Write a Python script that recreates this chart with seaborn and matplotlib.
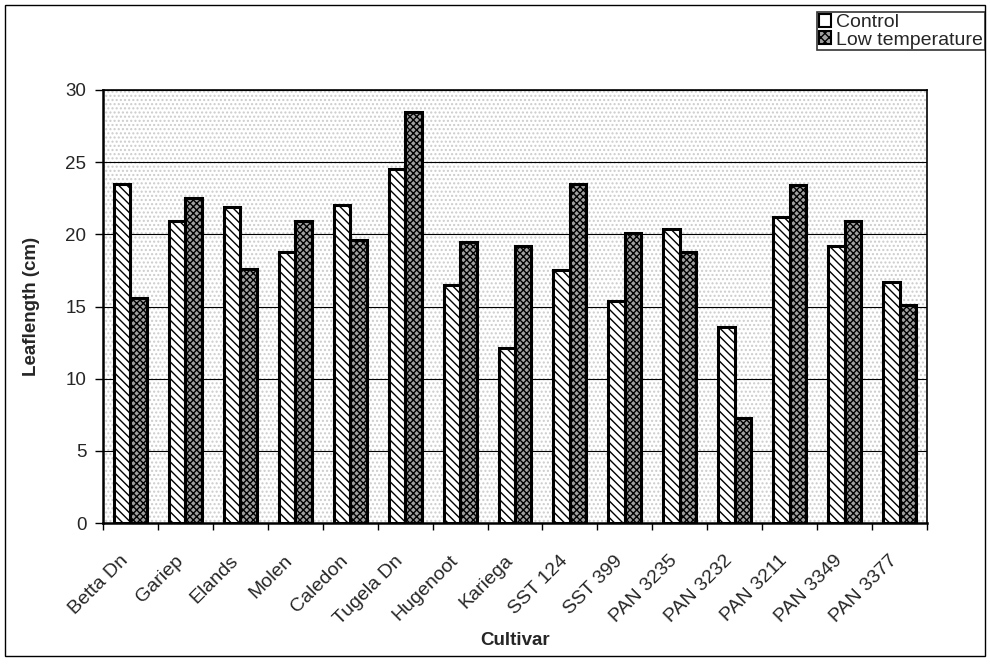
import matplotlib
matplotlib.use("Agg")
import matplotlib.pyplot as plt
import matplotlib.transforms as mtransforms
import seaborn as sns
import pandas as pd
from matplotlib.patches import Rectangle, Patch

cultivars = ["Betta Dn", "Gariep", "Elands", "Molen", "Caledon", "Tugela Dn",
             "Hugenoot", "Kariega", "SST 124", "SST 399", "PAN 3235", "PAN 3232",
             "PAN 3211", "PAN 3349", "PAN 3377"]
control = [23.5, 20.9, 21.9, 18.75, 22.0, 24.5, 16.5, 12.1, 17.5, 15.4, 20.4, 13.6, 21.2, 19.2, 16.7]
low_temp = [15.6, 22.5, 17.6, 20.9, 19.6, 28.5, 19.5, 19.2, 23.5, 20.1, 18.8, 7.3, 23.4, 20.9, 15.1]
series = ["Control", "Low temperature"]
yticks = [0, 5, 10, 15, 20, 25, 30]

df = pd.DataFrame({
    "Cultivar": cultivars * 2,
    "value": control + low_temp,
    "Series": [series[0]] * len(cultivars) + [series[1]] * len(cultivars),
})

sns.set_style("white")
plt.rcParams["font.family"] = ["Liberation Sans", "DejaVu Sans"]
plt.rcParams["hatch.linewidth"] = 1.0

fig = plt.figure(figsize=(9.9, 6.64), dpi=100)
ax = fig.add_axes([103 / 990, 1 - 523 / 664, (927 - 103) / 990, (523 - 90) / 664])

# light speckled-looking background
ax.add_patch(Rectangle((0, 0), 1, 1, transform=ax.transAxes, facecolor="white",
                       hatch="....", edgecolor="#cccccc", linewidth=0, zorder=0))

sns.barplot(data=df, x="Cultivar", y="value", hue="Series", hue_order=series,
            palette=["white", "#a0a0a0"], width=0.6, gap=0, ax=ax,
            edgecolor="black", linewidth=2.2, legend=False, zorder=3)

n = len(cultivars)
bars = [p for p in ax.patches if p.get_zorder() == 3]
for i, p in enumerate(bars):
    p.set_hatch("\\\\\\\\" if i < n else "xxxxx")

ax.set_ylim(0, 30)
ax.set_xlim(-0.5, n - 0.5)
ax.set_yticks(yticks)
ax.set_yticklabels([str(t) for t in yticks], fontsize=13.5)
ax.yaxis.grid(True, color="black", linewidth=0.8)
ax.set_axisbelow(True)
for s in ax.spines.values():
    s.set_color("black")
    s.set_linewidth(1.2)
ax.spines["left"].set_linewidth(1.8)
ax.spines["bottom"].set_linewidth(1.8)

ax.set_xticks([i - 0.5 for i in range(n + 1)], minor=True)
ax.tick_params(axis="x", which="minor", length=5, width=1, color="black", bottom=True)
ax.tick_params(axis="x", which="major", length=0, bottom=False, pad=21)
ax.tick_params(axis="y", length=6, width=1, color="black", left=True, pad=6)
ax.set_xticks(range(n))
ax.set_xticklabels(cultivars, rotation=45, ha="right", rotation_mode="anchor", fontsize=14)
shift = mtransforms.ScaledTranslation(-11 / 100, 0, fig.dpi_scale_trans)
for lab in ax.get_xticklabels():
    lab.set_transform(lab.get_transform() + shift)

ax.set_xlabel("Cultivar", fontsize=13.5, fontweight="bold")
ax.xaxis.set_label_coords(0.5, -0.252)
ax.set_ylabel("Leaflength (cm)", fontsize=13.5, fontweight="bold")
ax.yaxis.set_label_coords(-0.077, 0.5)

handles = [Patch(facecolor="white", edgecolor="black", linewidth=1.5, label=series[0]),
           Patch(facecolor="#a0a0a0", edgecolor="black", hatch="xxxx", linewidth=1.5, label=series[1])]
leg = fig.legend(handles=handles, loc="upper right", bbox_to_anchor=(0.995, 0.982),
                 frameon=True, fancybox=False, fontsize=14, handlelength=0.65,
                 handleheight=0.65, handletextpad=0.25, borderpad=0.1, labelspacing=0.0,
                 borderaxespad=0)
leg.get_frame().set_edgecolor("black")
leg.get_frame().set_linewidth(1.2)

fig.patches.append(Rectangle((0.005, 0.012), 0.99, 0.98, transform=fig.transFigure,
                             fill=False, edgecolor="black", linewidth=1.0))

fig.savefig("out.png", dpi=100)
